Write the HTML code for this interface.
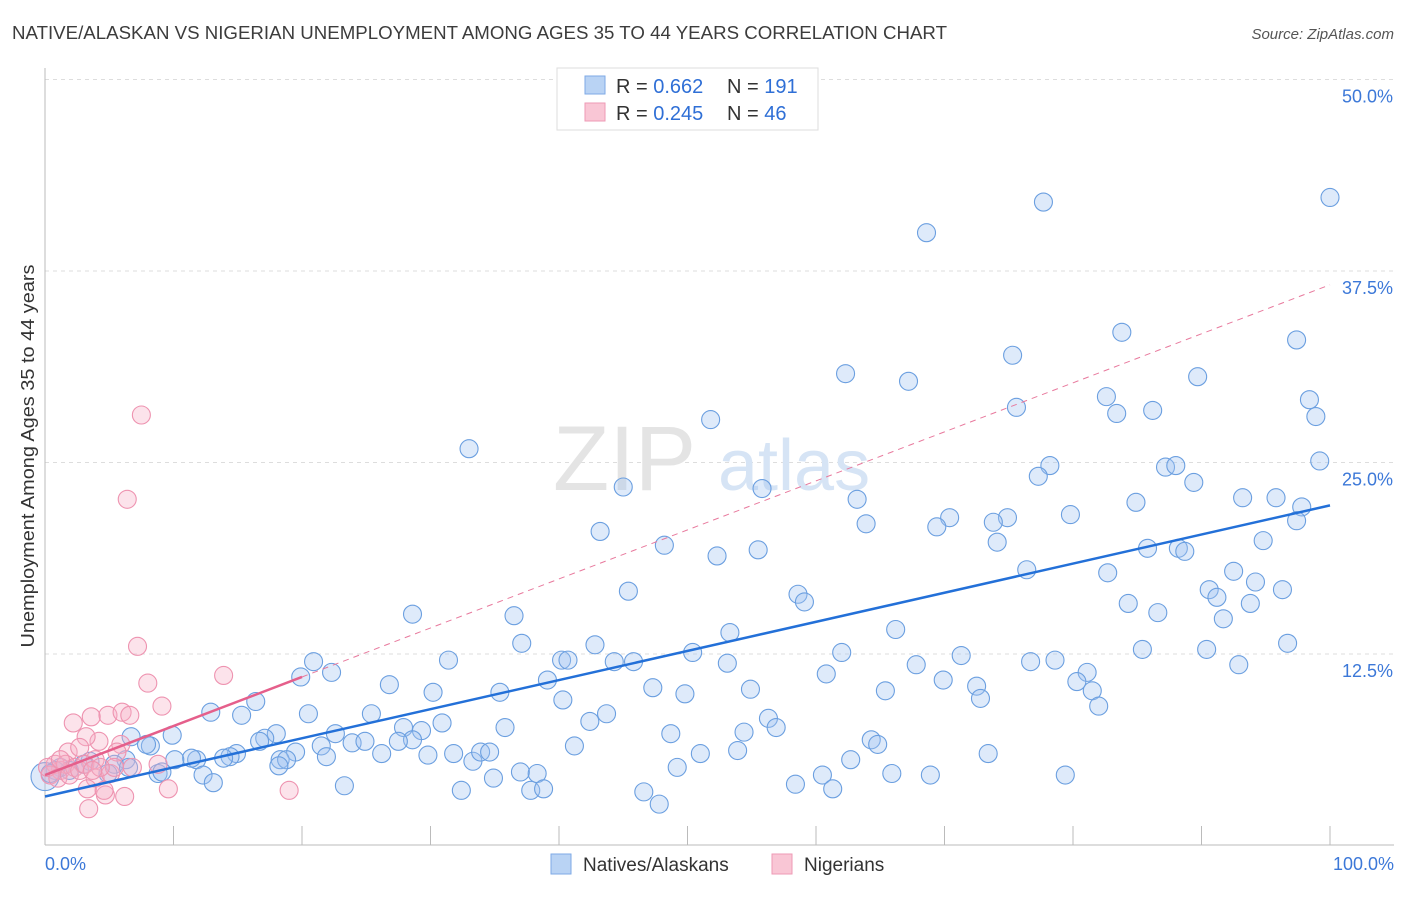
<!DOCTYPE html>
<html><head><meta charset="utf-8"><style>
body{margin:0;background:#fff;font-family:"Liberation Sans",sans-serif;}
svg text{font-family:"Liberation Sans",sans-serif;}
</style></head><body>
<svg id="chart" width="1406" height="892" xmlns="http://www.w3.org/2000/svg">
<text x="12" y="39" font-size="18" fill="#3c3c3c" textLength="935" lengthAdjust="spacingAndGlyphs">NATIVE/ALASKAN VS NIGERIAN UNEMPLOYMENT AMONG AGES 35 TO 44 YEARS CORRELATION CHART</text>
<text x="1394" y="39" font-size="15" fill="#555" font-style="italic" text-anchor="end">Source: ZipAtlas.com</text>
<g id="grid"></g>
<g><text x="553" y="490" font-size="92" fill="#e4e4e4" font-family="Liberation Serif,serif">ZIP</text><text x="718" y="490" font-size="72" fill="#d6e4f5">atlas</text></g>
<g id="axes"></g>
<g id="pts"></g>
<g id="trends"></g>
<text transform="translate(34,456) rotate(-90)" font-size="18" fill="#333" text-anchor="middle" textLength="383" lengthAdjust="spacingAndGlyphs">Unemployment Among Ages 35 to 44 years</text>
<g>
<rect x="557" y="68" width="261" height="62" fill="#fff" stroke="#ddd"/>
<rect x="585" y="76" width="20" height="18" fill="#b9d3f4" stroke="#7eaae6"/>
<rect x="585" y="103" width="20" height="18" fill="#f9c6d5" stroke="#ee9ab5"/>
<text x="616" y="93" font-size="20" fill="#333">R = <tspan fill="#2f6fd6">0.662</tspan></text>
<text x="727" y="93" font-size="20" fill="#333">N = <tspan fill="#2f6fd6">191</tspan></text>
<text x="616" y="120" font-size="20" fill="#333">R = <tspan fill="#2f6fd6">0.245</tspan></text>
<text x="727" y="120" font-size="20" fill="#333">N =  <tspan fill="#2f6fd6">46</tspan></text>
</g>
<g>
<rect x="551" y="854" width="20" height="20" fill="#b9d3f4" stroke="#7eaae6"/>
<text x="583" y="871" font-size="19" fill="#333">Natives/Alaskans</text>
<rect x="772" y="854" width="20" height="20" fill="#f9c6d5" stroke="#ee9ab5"/>
<text x="804" y="871" font-size="19" fill="#333">Nigerians</text>
</g>
</svg>
<script>
const yTicks=[12.5,25,37.5,50];
const yTickLabels=["12.5%","25.0%","37.5%","50.0%"];
const xTickLabels=["0.0%","100.0%"];
const blueX=[100,77.7,68.6,83.8,97.4,75.3,62.3,67.2,89.7,82.6,98.4,75.6,83.4,86.2,98.9,51.8,33.0,99.2,55.8,87.2,88.0,78.2,77.3,45.0,89.4,63.2,84.9,93.2,95.8,97.8,79.8,70.4,74.9,73.8,63.9,69.4,97.4,43.2,74.1,48.2,55.5,52.3,94.8,85.8,88.2,88.7,76.4,82.7,92.5,94.2,90.6,91.2,96.3,45.4,58.6,59.1,84.3,93.8,86.6,91.7,28.6,36.5,66.2,53.3,37.1,42.8,96.7,85.4,90.4,31.4,40.2,40.7,44.3,45.8,50.4,62.0,71.3,20.9,22.3,19.9,53.1,67.8,76.7,78.6,92.9,81.1,60.8,69.9,80.3,81.5,72.5,72.8,82.0,26.8,39.1,47.3,49.8,54.9,65.4,35.4,30.2,16.4,40.3,20.5,25.4,12.9,15.3,43.7,42.4,30.9,27.9,35.8,56.3,56.9,48.7,54.4,29.3,22.6,18.0,17.1,16.7,6.7,8.2,7.9,9.9,23.9,28.6,27.5,21.5,24.9,19.5,14.9,14.4,13.9,11.8,11.4,10.1,6.3,5.4,4.9,3.5,3.0,1.9,1.2,0.8,18.3,18.8,21.9,26.2,29.8,31.8,33.3,33.9,34.6,41.2,51.0,53.9,64.3,64.8,73.4,62.7,49.2,37.0,38.3,34.9,65.9,68.9,60.5,79.4,58.4,61.3,23.3,32.4,37.8,38.8,46.6,47.8,12.3,13.1,8.8,9.1,6.5,18.2,0.0,0.4];
const blueY=[42.3,42.0,40.0,33.5,33.0,32.0,30.8,30.3,30.6,29.3,29.1,28.6,28.2,28.4,28.0,27.8,25.9,25.1,23.3,24.7,24.8,24.8,24.1,23.4,23.7,22.6,22.4,22.7,22.7,22.1,21.6,21.4,21.4,21.1,21.0,20.8,21.2,20.5,19.8,19.6,19.3,18.9,19.9,19.4,19.4,19.2,18.0,17.8,17.9,17.2,16.7,16.2,16.7,16.6,16.4,15.9,15.8,15.8,15.2,14.8,15.1,15.0,14.1,13.9,13.2,13.1,13.2,12.8,12.8,12.1,12.1,12.1,12.0,12.0,12.6,12.6,12.4,12.0,11.3,11.0,11.9,11.8,12.0,12.1,11.8,11.3,11.2,10.8,10.7,10.1,10.4,9.6,9.1,10.5,10.8,10.3,9.9,10.2,10.1,10.0,10.0,9.4,9.5,8.6,8.6,8.7,8.5,8.6,8.1,8.0,7.7,7.7,8.3,7.7,7.3,7.4,7.5,7.3,7.3,7.0,6.8,7.1,6.5,6.6,7.2,6.7,6.9,6.8,6.5,6.8,6.1,6.0,5.8,5.7,5.6,5.7,5.6,5.6,5.3,4.7,5.5,5.3,4.9,5.1,4.9,5.6,5.6,5.8,6.0,5.9,6.0,5.5,6.1,6.1,6.5,6.0,6.2,6.9,6.6,6.0,5.6,5.1,4.8,4.7,4.4,4.7,4.6,4.6,4.6,4.0,3.7,3.9,3.6,3.6,3.7,3.5,2.7,4.6,4.1,4.7,4.8,5.1,5.2,4.5,4.7];
const pinkX=[7.5,6.4,7.2,13.9,8.0,9.1,2.2,3.6,4.9,6.0,6.6,4.2,3.2,1.8,2.7,3.9,5.9,5.6,8.8,3.9,5.1,6.8,5.4,3.3,4.7,4.6,6.2,9.6,19.0,3.4,1.2,0.8,1.6,2.3,0.4,0.2,1.0,1.9,2.7,3.1,4.3,1.2,3.7];
const pinkY=[28.1,22.6,13.0,11.1,10.6,9.1,8.0,8.4,8.5,8.7,8.5,6.8,7.1,6.1,6.4,5.6,6.6,6.1,5.3,4.4,4.7,5.1,5.1,3.7,3.3,3.6,3.2,3.7,3.6,2.4,4.9,5.3,5.3,5.1,4.6,5.1,4.4,4.6,4.9,5.3,5.1,5.6,4.9];
const blueTrend=[3.2,22.2];
const pinkTrend=[4.6,0.32];
const NS="http://www.w3.org/2000/svg";
const X=v=>45+v*12.85, Y=v=>845.5-v*15.32;
function mk(tag,attrs,parent){const e=document.createElementNS(NS,tag);for(const k in attrs)e.setAttribute(k,attrs[k]);parent.appendChild(e);return e;}
const grid=document.getElementById('grid'),axes=document.getElementById('axes'),pts=document.getElementById('pts'),tr=document.getElementById('trends');
yTicks.forEach((t,i)=>{
 const l=mk('line',{x1:45,x2:1394,y1:Y(t),y2:Y(t),stroke:'#ddd','stroke-dasharray':'4,4'},grid);
 
 
 const tx=mk('text',{x:1393,y:Y(t)+23,'font-size':18,fill:'#3c78d8','text-anchor':'end'},axes);
 tx.textContent=yTickLabels[i];
 
 
});
mk('line',{x1:45,x2:45,y1:68,y2:845,stroke:'#bbb'},axes);
mk('line',{x1:45,x2:1394,y1:845,y2:845,stroke:'#bbb'},axes);
for(let i=1;i<=10;i++){mk('line',{x1:45+i*128.5,x2:45+i*128.5,y1:826,y2:845,stroke:'#bbb'},axes);}
[[0,'start',45],[1,'end',1394]].forEach(([i,a,x])=>{const t=mk('text',{x:x,y:870,'font-size':18,fill:'#3c78d8','text-anchor':a},axes);t.textContent=xTickLabels[i];
 
 });
blueX.forEach((v,i)=>{const c=mk('circle',{cx:X(v),cy:Y(blueY[i]),r:(v===0?14:9),fill:'rgba(160,196,240,0.35)',stroke:'#6b9fe0','stroke-width':1.1},pts);
 
 });
pinkX.forEach((v,i)=>{const c=mk('circle',{cx:X(v),cy:Y(pinkY[i]),r:9,fill:'rgba(245,175,198,0.35)',stroke:'#ee93b0','stroke-width':1.1},pts);
 
 });
const bl=mk('line',{x1:X(0),y1:Y(blueTrend[0]),x2:X(100),y2:Y(blueTrend[1]),stroke:'#2370d8','stroke-width':2.5},tr);


const pd=mk('line',{x1:X(20),y1:Y(pinkTrend[0]+20*pinkTrend[1]),x2:X(100),y2:Y(pinkTrend[0]+100*pinkTrend[1]),stroke:'#e8799d','stroke-width':1,'stroke-dasharray':'6,5'},tr);


const ps=mk('line',{x1:X(0),y1:Y(pinkTrend[0]),x2:X(20),y2:Y(pinkTrend[0]+20*pinkTrend[1]),stroke:'#e55f8b','stroke-width':2.5},tr);


</script>
</body></html>
